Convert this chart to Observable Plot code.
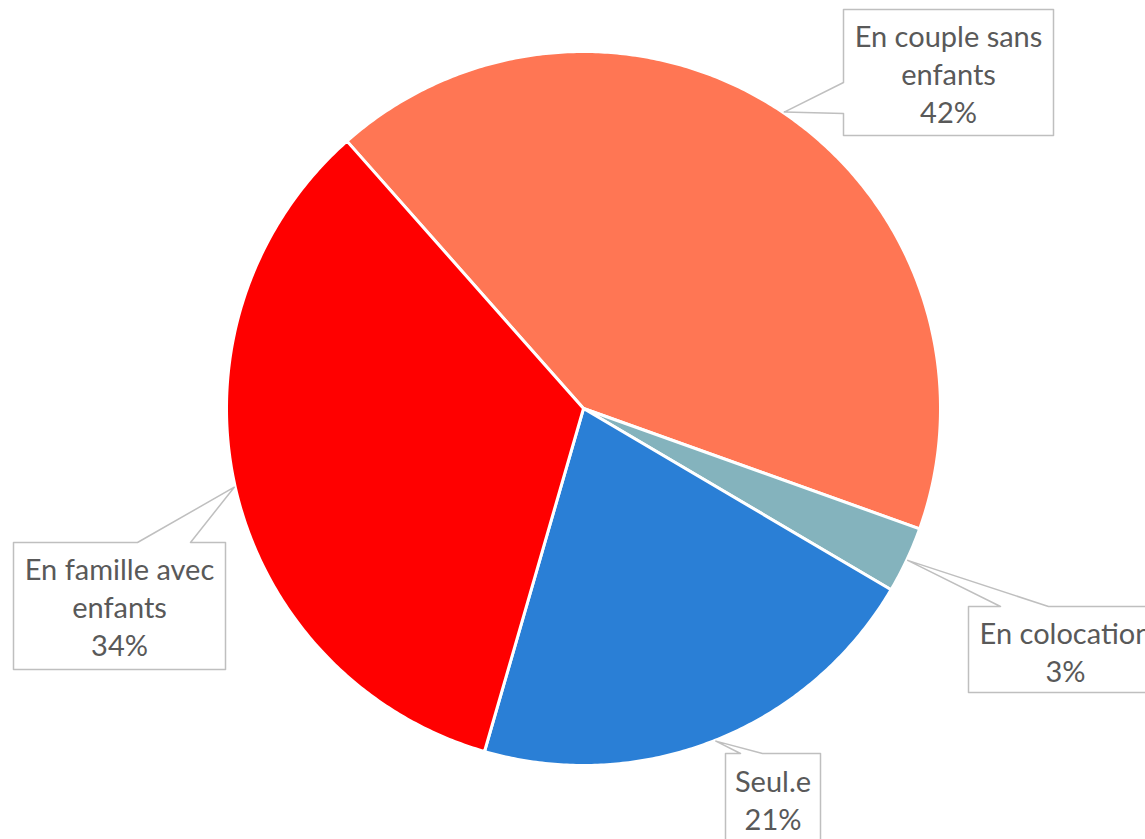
<!DOCTYPE html>
<html>
<head>
<meta charset="utf-8">
<script src="https://cdn.jsdelivr.net/npm/d3@7"></script>
<script src="https://cdn.jsdelivr.net/npm/@observablehq/plot@0.6"></script>
<style>
  html, body { margin: 0; padding: 0; background: #fff; overflow: hidden; }
  #chart svg { display: block; }
</style>
</head>
<body>
<div id="chart"></div>
<script>
// ---- Data ----
const categories = ["En couple sans enfants", "En colocation", "Seul.e", "En famille avec enfants"];
const labelLines = [["En couple sans", "enfants"], ["En colocation"], ["Seul.e"], ["En famille avec", "enfants"]];
const values = [42, 3, 21, 34];
const colors = ["#FF7654", "#84B3BD", "#2A7FD6", "#FF0000"];

// ---- Layout (pixels) ----
const W = 1145, H = 839;
const cx = 583, cy = 408, R = 357;
const startAngle = -41.5; // degrees, clockwise from 12 o'clock
// label boxes: [x1, y1, x2, y2], side where the pointer leaves, base points on that edge, text centre y
const boxes = [
  {box: [843, 9, 1053, 135], side: "left", base: [82, 113], ty: 72},
  {box: [968, 606, 1162, 692], side: "top", base: [1000, 1048], ty: 650},
  {box: [725, 753, 820, 860], side: "top", base: [740, 762], ty: 798},
  {box: [13, 542, 225, 669], side: "top", base: [137, 190], ty: 605}
];

const total = d3.sum(values);
const rad = a => a * Math.PI / 180;
const px = (a, r) => cx + r * Math.sin(rad(a));
const py = (a, r) => cy - r * Math.cos(rad(a));

// slice polygons
const slicePts = [];
const mids = [];
let a0 = startAngle;
categories.forEach((c, i) => {
  const span = values[i] / total * 360;
  const a1 = a0 + span;
  mids.push((a0 + a1) / 2);
  slicePts.push({x: cx, y: cy, cat: c});
  const n = Math.max(2, Math.ceil(span / 0.5));
  for (let k = 0; k <= n; k++) {
    const a = a0 + span * k / n;
    slicePts.push({x: px(a, R), y: py(a, R), cat: c});
  }
  a0 = a1;
});

// callout outlines
const calloutPts = [];
const texts = [];
categories.forEach((c, i) => {
  const {box: [x1, y1, x2, y2], side, base, ty} = boxes[i];
  const tip = {x: px(mids[i], R + 1), y: py(mids[i], R + 1)};
  let pts;
  if (side === "left") {
    pts = [[x1, y1], [x2, y1], [x2, y2], [x1, y2], [x1, base[1]], [tip.x, tip.y], [x1, base[0]], [x1, y1]];
  } else {
    pts = [[x1, y1], [base[0], y1], [tip.x, tip.y], [base[1], y1], [x2, y1], [x2, y2], [x1, y2], [x1, y1]];
  }
  pts.forEach(([x, y]) => calloutPts.push({x, y, cat: c}));
  const lines = [...labelLines[i], values[i] + "%"];
  texts.push({x: (x1 + x2) / 2, y: ty, text: lines.join("\n")});
});

const chart = Plot.plot({
  width: W,
  height: H,
  margin: 0,
  x: {domain: [0, W], range: [0, W], axis: null},
  y: {domain: [0, H], range: [0, H], axis: null},
  color: {domain: categories, range: colors},
  style: {fontFamily: "Lato, 'Open Sans', sans-serif", background: "#fff"},
  marks: [
    Plot.line(slicePts, {x: "x", y: "y", z: "cat", fill: "cat", stroke: "#fff", strokeWidth: 3, strokeLinejoin: "round", curve: "linear-closed"}),
    Plot.line(calloutPts, {x: "x", y: "y", z: "cat", fill: "#fff", stroke: "#BFBFBF", strokeWidth: 1.5, curve: "linear"}),
    Plot.text(texts, {x: "x", y: "y", text: "text", fill: "#595959", fontSize: 29, lineHeight: 1.31, textAnchor: "middle", lineAnchor: "middle"})
  ]
});
document.getElementById("chart").appendChild(chart);
</script>
</body>
</html>
